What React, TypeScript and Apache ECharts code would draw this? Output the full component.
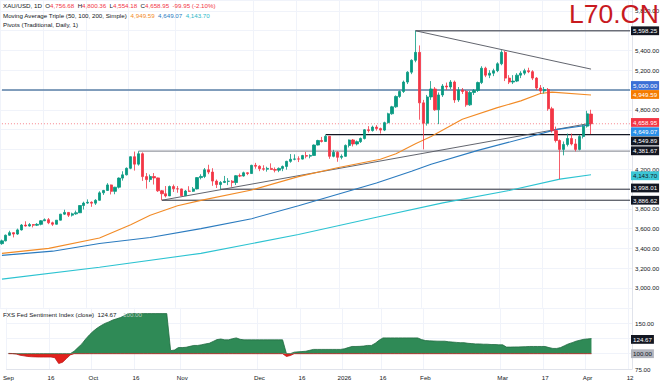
import { useEffect, useRef } from 'react';
import * as echarts from 'echarts';

const FONT = "'Liberation Sans', Arial, sans-serif";

// ---- time axis ----
const firstDay = '2025-09-01';
const lastTradingDay = '2026-04-02';
const futureEnd = '2026-04-12';
const holidays = ['2025-12-25', '2026-01-01'];
const dateLabels: Record<string, string> = {
  '2025-09-01': 'Sep', '2025-09-16': '16', '2025-10-01': 'Oct', '2025-10-16': '16',
  '2025-11-03': 'Nov', '2025-12-01': 'Dec', '2025-12-16': '16', '2026-01-02': '2026',
  '2026-01-16': '16', '2026-02-02': 'Feb', '2026-03-02': 'Mar', '2026-03-17': '17',
  '2026-04-01': 'Apr', '2026-04-12': '12',
};

// ---- XAU/USD daily OHLC ----
const opens = [
  3448, 3476, 3533, 3559, 3545, 3587, 3636, 3626, 3641, 3634,
  3643, 3679, 3690, 3659, 3644, 3685, 3746, 3763, 3736, 3749,
  3760, 3833, 3858, 3866, 3857, 3886, 3961, 3985, 4041, 3976,
  4018, 4110, 4143, 4209, 4326, 4251, 4356, 4125, 4095, 4126,
  4112, 3982, 3952, 3930, 4025, 4002, 4001, 3932, 3979, 3977,
  4001, 4115, 4127, 4194, 4171, 4080, 4045, 4066, 4077, 4079,
  4065, 4134, 4131, 4164, 4156, 4239, 4230, 4205, 4200, 4208,
  4197, 4190, 4208, 4228, 4279, 4300, 4304, 4302, 4338, 4332,
  4339, 4444, 4490, 4480, 4532, 4330, 4370, 4320, 4330, 4440,
  4495, 4455, 4478, 4510, 4598, 4590, 4625, 4610, 4595, 4670,
  4760, 4830, 4935, 4985, 5080, 5180, 5300, 5380, 4870, 4665,
  4930, 5010, 4800, 4950, 5040, 5030, 5080, 4900, 5000, 4985,
  4850, 4975, 4995, 5075, 5220, 5150, 5170, 5195, 5265, 5380,
  5120, 5080, 5090, 5150, 5170, 5195, 5185, 5120, 5020, 4990,
  5005, 4810, 4590, 4490, 4400, 4450, 4510, 4455, 4400, 4530, 4635, 4756.68,
];
const highs = [
  3489, 3540, 3578, 3563, 3600, 3646, 3674, 3656, 3645, 3655,
  3686, 3703, 3707, 3670, 3686, 3749, 3791, 3768, 3761, 3782,
  3835, 3872, 3895, 3875, 3897, 3977, 3991, 4059, 4045, 4022,
  4117, 4179, 4218, 4330, 4378, 4381.67, 4370, 4161, 4146, 4161,
  4115, 3990, 4030, 4035, 4045, 4030, 4004, 3990, 4028, 4020,
  4120, 4149, 4212, 4245, 4210, 4096, 4080, 4132, 4110, 4090,
  4140, 4156, 4175, 4168, 4245, 4264, 4240, 4240, 4225, 4259,
  4218, 4218, 4237, 4285, 4353, 4350, 4330, 4345, 4375, 4350,
  4450, 4497, 4526, 4549.89, 4535, 4395, 4382, 4350, 4450, 4500,
  4505, 4490, 4520, 4605, 4635, 4640, 4645, 4620, 4680, 4770,
  4840, 4945, 4995, 5095, 5190, 5310, 5598.25, 5450, 4900, 4950,
  5090, 5030, 4975, 5060, 5075, 5100, 5095, 5030, 5020, 5000,
  4990, 5010, 5085, 5240, 5235, 5200, 5215, 5280, 5402, 5395,
  5150, 5150, 5170, 5190, 5215, 5225, 5200, 5130, 5050, 5030,
  5020, 4830, 4630, 4500, 4480, 4560, 4560, 4505, 4545, 4650, 4790, 4800.36,
];
const lows = [
  3436, 3471, 3527, 3511, 3537, 3580, 3620, 3620, 3612, 3626,
  3633, 3676, 3645, 3627, 3641, 3683, 3738, 3717, 3722, 3740,
  3758, 3793, 3850, 3820, 3839, 3882, 3940, 3980, 3945, 3947,
  4005, 4085, 4137, 4200, 4186, 4236, 4082, 4004, 4070, 4045,
  3970, 3886.62, 3915, 3929, 3970, 3962, 3928, 3930, 3972, 3970,
  3996, 4097, 4110, 4150, 4032, 4010, 3998.01, 4060, 4039, 4022,
  4040, 4120, 4125, 4140, 4152, 4205, 4180, 4184, 4175, 4195,
  4168, 4170, 4180, 4195, 4265, 4290, 4272, 4298, 4310, 4310,
  4337, 4440, 4470, 4475, 4305, 4320, 4275, 4300, 4325, 4420,
  4430, 4440, 4465, 4500, 4570, 4580, 4590, 4560, 4585, 4660,
  4750, 4820, 4920, 4970, 5060, 5160, 5280, 4700, 4400, 4640,
  4900, 4790, 4655, 4930, 5000, 5010, 4870, 4880, 4960, 4830,
  4840, 4950, 4980, 5060, 5130, 5120, 5140, 5180, 5250, 5090,
  5060, 5060, 5080, 5120, 5150, 5170, 5100, 5000, 4960, 4965,
  4790, 4570, 4470, 4100, 4340, 4430, 4440, 4380, 4390, 4510, 4620, 4554.18,
];
const closes = [
  3476, 3533, 3559, 3545, 3587, 3636, 3626, 3641, 3634, 3643,
  3679, 3690, 3659, 3644, 3685, 3746, 3763, 3736, 3749, 3760,
  3833, 3858, 3866, 3857, 3886, 3961, 3985, 4041, 3976, 4018,
  4110, 4143, 4209, 4326, 4251, 4356, 4125, 4095, 4126, 4112,
  3982, 3952, 3930, 4025, 4002, 4001, 3932, 3979, 3977, 4001,
  4115, 4127, 4194, 4171, 4080, 4045, 4066, 4077, 4079, 4065,
  4134, 4131, 4164, 4156, 4239, 4230, 4205, 4200, 4208, 4197,
  4190, 4208, 4228, 4279, 4300, 4304, 4302, 4338, 4332, 4339,
  4444, 4490, 4480, 4532, 4330, 4370, 4320, 4330, 4440, 4495,
  4455, 4478, 4510, 4598, 4590, 4625, 4610, 4595, 4670, 4760,
  4830, 4935, 4985, 5080, 5180, 5300, 5380, 4870, 4665, 4930,
  5010, 4800, 4950, 5040, 5030, 5080, 4900, 5000, 4985, 4850,
  4975, 4995, 5075, 5220, 5150, 5170, 5195, 5265, 5380, 5120,
  5080, 5090, 5150, 5170, 5195, 5185, 5120, 5020, 4990, 5005,
  4810, 4590, 4490, 4400, 4450, 4510, 4455, 4400, 4530, 4635, 4758.9, 4658.95,
];

// ---- moving averages: [bar index, value] ----
const ma50Points = [
  [0, 3350], [12, 3400], [25, 3505], [33, 3640], [38, 3735], [45, 3830], [51, 3885],
  [64, 3990], [76, 4125], [86, 4215], [97, 4300], [101, 4357], [106, 4457], [110, 4530],
  [118, 4705], [127, 4822], [133, 4890], [138, 4965], [141, 4978], [151, 4949.59],
];
const ma100Points = [
  [0, 3330], [13, 3372], [25, 3450], [38, 3510], [51, 3600], [64, 3700], [76, 3830],
  [96, 4060], [105, 4180], [110, 4250], [122, 4390], [135, 4525], [142, 4600], [151, 4649.07],
];
const ma200Points = [
  [0, 3090], [25, 3210], [51, 3350], [76, 3540], [96, 3715], [113, 3860], [130, 3985],
  [143, 4100], [151, 4143.7],
];

// ---- FXS Fed Sentiment Index ----
const sentimentBase = 100;
const sentiment = [
  100.5, 100.3, 99.5, 97.5, 96.5, 95.5, 95, 94.8, 94.6, 94.6,
  94.6, 94.6, 93.5, 84, 86, 92, 98, 104, 110, 116,
  124, 131, 137, 142, 146, 149.5, 152, 155, 157, 159,
  162, 165.5, 165.5, 165.5, 165.5, 165.5, 165.5, 165.5, 165.5, 165.5,
  165.5, 165.5, 105, 106, 110, 110, 110.5, 112, 113.5, 113.5,
  114.5, 116, 117, 120, 123, 124, 122.6, 122.6, 124.5, 125.8,
  123.5, 122.6, 122.6, 122.6, 122.6, 122.6, 122.6, 122.6, 122.6, 122.6,
  122.6, 122.6, 95.5, 97, 102.5, 103, 103.5, 104, 105.5, 107,
  107, 107, 107, 107, 107, 107, 107, 108, 110, 111.8,
  111.8, 112, 112.5, 113.5, 113.5, 117, 122, 125.8, 125.8, 125.8,
  125.8, 125.8, 125.8, 125.8, 125.8, 125.8, 125.8, 123, 121.5, 121,
  120.8, 120.5, 120.4, 120.4, 119.5, 119, 118.5, 118, 118, 117,
  116.5, 116, 116, 115.5, 115.5, 115, 115, 114.5, 114.5, 110.8,
  110.8, 111, 111, 111.2, 111.5, 111.8, 111.8, 111.8, 111.8, 111.8,
  110, 108.6, 108.6, 110, 113, 116, 118, 120.4, 122, 123.5, 124.2, 124.67,
];

// ---- drawn levels: [startBar, startValue, endBar, endValue] ----
const peakLevel = [106, 5598.25, 161, 5598.25];
const fallingTrend = [106, 5598.25, 151, 5211];
const risingTrend = [41, 3886.62, 151, 4665];
const pivotDec = [83, 4549.89, 161, 4549.89];
const pivotOct = [35, 4381.67, 161, 4381.67];
const pivotNov = [56, 3998.01, 161, 3998.01];
const pivotLow = [41, 3886.62, 161, 3886.62];
const roundLevel = [0, 5000, 161, 5000];
const lastPriceLine = [0, 4658.95, 161, 4658.95];

const priceTickLabels = [3000, 3200, 3400, 3600, 3800, 4200, 4800, 5200, 5400, 5800];
const sentimentTickLabels = [75, 150];

// right-axis tags
const priceTags = [
  { v: 5598.25, t: '5,598.25', kind: 'pivot', dy: 0 },
  { v: 5000, t: '5,000.00', kind: 'round', dy: -4.5 },
  { v: 4949.59, t: '4,949.59', kind: 'ma50', dy: -0.5 },
  { v: 4658.95, t: '4,658.95', kind: 'price', dy: -1.3 },
  { v: 4649.07, t: '4,649.07', kind: 'ma100', dy: 7 },
  { v: 4549.89, t: '4,549.89', kind: 'pivot', dy: 6.4 },
  { v: 4381.67, t: '4,381.67', kind: 'pivot', dy: -0.4 },
  { v: 4143.7, t: '4,143.70', kind: 'ma200', dy: 1 },
  { v: 3998.01, t: '3,998.01', kind: 'pivot', dy: -1.2 },
  { v: 3886.62, t: '3,886.62', kind: 'pivot', dy: 0 },
];
const sentimentTags = [
  { v: 124.67, t: '124.67', kind: 'pivot', dy: 0.8 },
  { v: 100, t: '100.00', kind: 'base', dy: 0 },
];

const tagStyle: Record<string, { bg: string; fg: string }> = {
  pivot: { bg: '#131722', fg: '#ffffff' },
  round: { bg: '#3b6fd6', fg: '#ffffff' },
  ma50: { bg: '#f57c00', fg: '#ffffff' },
  price: { bg: '#f23645', fg: '#ffffff' },
  ma100: { bg: '#2a8fe8', fg: '#ffffff' },
  ma200: { bg: '#3cc6d6', fg: '#131722' },
  base: { bg: '#b2b5be', fg: '#131722' },
};

function buildCategories(): string[] {
  const out: string[] = [];
  const [y, m, d] = firstDay.split('-').map(Number);
  const cur = new Date(Date.UTC(y, m - 1, d));
  const fmt = (x: Date) => x.toISOString().slice(0, 10);
  while (fmt(cur) <= lastTradingDay) {
    const wd = cur.getUTCDay();
    const s = fmt(cur);
    if (wd !== 0 && wd !== 6 && !holidays.includes(s)) out.push(s);
    cur.setUTCDate(cur.getUTCDate() + 1);
  }
  while (fmt(cur) <= futureEnd) {
    out.push(fmt(cur));
    cur.setUTCDate(cur.getUTCDate() + 1);
  }
  return out;
}

const fmt2 = (v: number) =>
  v.toLocaleString('en-US', { minimumFractionDigits: 2, maximumFractionDigits: 2 });

export default function App() {
  const ref = useRef<HTMLDivElement>(null);

  useEffect(() => {
    if (!ref.current) return;
    const chart = echarts.init(ref.current, undefined, { renderer: 'svg' });
    const categories = buildCategories();
    const isLabeled = (_i: number, v: string) => dateLabels[v] !== undefined;
    const candles = opens.map((o, i) => [o, closes[i], lows[i], highs[i]]);
    const sentimentAbove = sentiment.map((v) => Math.max(v, sentimentBase));
    const sentimentBelow = sentiment.map((v) => Math.min(v, sentimentBase));
    const gridColor = '#f0f3fa';
    const borderColor = '#e0e3eb';

    const segLine = (s: number[], color: string, width: number, dash?: number[]) => ({
      type: 'line', xAxisIndex: 0, yAxisIndex: 0,
      data: [[s[0], s[1]], [s[2], s[3]]],
      showSymbol: false, silent: true, z: 2,
      lineStyle: { color, width, type: dash ?? 'solid' },
    });

    const option: any = {
      animation: false,
      backgroundColor: '#ffffff',
      textStyle: { fontFamily: FONT },
      grid: [
        { left: 0, right: 33, top: 0, height: 307.8 },
        { left: 0, right: 33, top: 307.8, height: 61.2 },
      ],
      xAxis: [
        {
          type: 'category', gridIndex: 0, data: categories, boundaryGap: true,
          axisLine: { show: false }, axisTick: { show: false }, axisLabel: { show: false },
          splitLine: { show: true, interval: isLabeled, lineStyle: { color: gridColor } },
        },
        {
          type: 'category', gridIndex: 1, data: categories, boundaryGap: true,
          axisLine: { show: true, lineStyle: { color: borderColor } }, axisTick: { show: false },
          axisLabel: {
            interval: isLabeled, formatter: (v: string) => dateLabels[v] ?? '',
            fontSize: 6.2, color: '#131722', margin: 5, fontFamily: FONT,
          },
          splitLine: { show: true, interval: isLabeled, lineStyle: { color: gridColor } },
        },
      ],
      yAxis: [
        {
          type: 'value', gridIndex: 0, position: 'right', min: 2800, max: 5909, interval: 200,
          axisLine: { show: true, lineStyle: { color: borderColor } }, axisTick: { show: false },
          axisLabel: {
            formatter: (v: number) => (priceTickLabels.includes(v) ? fmt2(v) : ''),
            fontSize: 6.2, color: '#131722', margin: 3, fontFamily: FONT,
          },
          splitLine: { lineStyle: { color: gridColor } },
        },
        {
          type: 'value', gridIndex: 1, position: 'right', min: 75, max: 175, interval: 25,
          axisLine: { show: true, lineStyle: { color: borderColor } }, axisTick: { show: false },
          axisLabel: {
            formatter: (v: number) => (sentimentTickLabels.includes(v) ? fmt2(v) : ''),
            fontSize: 6.2, color: '#131722', margin: 3, fontFamily: FONT,
          },
          splitLine: { lineStyle: { color: gridColor } },
        },
      ],
      series: [
        {
          type: 'candlestick', xAxisIndex: 0, yAxisIndex: 0, data: candles, barWidth: 2.7, z: 4,
          itemStyle: {
            color: '#089981', color0: '#f23645', borderColor: '#089981', borderColor0: '#f23645',
            borderWidth: 0.8,
          },
        },
        {
          type: 'line', xAxisIndex: 0, yAxisIndex: 0, data: ma50Points, showSymbol: false,
          lineStyle: { color: '#f28b26', width: 1.1 }, z: 3,
        },
        {
          type: 'line', xAxisIndex: 0, yAxisIndex: 0, data: ma100Points, showSymbol: false,
          lineStyle: { color: '#2b7bbf', width: 1.1 }, z: 3,
        },
        {
          type: 'line', xAxisIndex: 0, yAxisIndex: 0, data: ma200Points, showSymbol: false,
          lineStyle: { color: '#2cc3d1', width: 1.1 }, z: 3,
        },
        {
          type: 'line', xAxisIndex: 1, yAxisIndex: 1, data: sentimentAbove, showSymbol: false,
          lineStyle: { width: 0.8, color: '#1f6b40' },
          areaStyle: { origin: sentimentBase, opacity: 1, color: '#2f8a56' },
        },
        {
          type: 'line', xAxisIndex: 1, yAxisIndex: 1, data: sentimentBelow, showSymbol: false,
          lineStyle: { width: 0.8, color: '#c01818' },
          areaStyle: { origin: sentimentBase, opacity: 1, color: '#e3211c' },
        },
        segLine(lastPriceLine, 'rgba(242,54,69,0.75)', 0.8, [1, 2]),
        segLine(roundLevel, '#5a7fa6', 1.6),
        segLine(peakLevel, '#6b6e78', 1.6),
        segLine(fallingTrend, '#50535e', 0.9),
        segLine(pivotDec, '#131722', 1.2),
        segLine(pivotOct, '#9598a1', 1.2),
        segLine(pivotNov, '#2a2e39', 1),
        segLine(pivotLow, '#2a2e39', 1),
        segLine(risingTrend, '#50535e', 0.9),
      ],
    };
    chart.setOption(option);

    const staticGraphics: any[] = [
      {
        type: 'text', left: 3, top: 2, z: 100,
        style: {
          text: '{d|XAU/USD, 1D}  {d|O}{r|4,756.68}  {d|H}{r|4,800.36}  {d|L}{r|4,554.18}  {d|C}{r|4,658.95}  {r|-99.95 (-2.10%)}',
          fontSize: 6.2, fontFamily: FONT, fill: '#131722',
          rich: { d: { fill: '#131722', fontSize: 6.2, fontFamily: FONT }, r: { fill: '#f23645', fontSize: 6.2, fontFamily: FONT } },
        },
      },
      {
        type: 'text', left: 3, top: 12, z: 100,
        style: {
          text: '{d|Moving Average Triple (50, 100, 200, Simple)}  {o|4,949.59}  {b|4,649.07}  {t|4,143.70}',
          fontSize: 6.2, fontFamily: FONT, fill: '#131722',
          rich: {
            d: { fill: '#131722', fontSize: 6.2, fontFamily: FONT },
            o: { fill: '#f28b26', fontSize: 6.2, fontFamily: FONT },
            b: { fill: '#2b7bbf', fontSize: 6.2, fontFamily: FONT },
            t: { fill: '#2cb8c8', fontSize: 6.2, fontFamily: FONT },
          },
        },
      },
      {
        type: 'text', left: 3, top: 21, z: 100,
        style: { text: 'Pivots (Traditional, Daily, 1)', fontSize: 6.2, fontFamily: FONT, fill: '#131722' },
      },
      {
        type: 'text', left: 3, top: 311, z: 100,
        style: {
          text: 'FXS Fed Sentiment Index (close)  124.67',
          fontSize: 6.2, fontFamily: FONT, fill: '#131722',
        },
      },
      {
        type: 'text', left: 123, top: 311, z: 100,
        style: { text: '100.00', fontSize: 6.2, fontFamily: FONT, fill: '#b9cbbf' },
      },
      {
        type: 'text', left: 569, top: 0, z: 200,
        style: { text: 'L70.CN', fontSize: 26.5, fontFamily: FONT, fill: '#c81a1f' },
      },
    ];

    const makeTags = (tags: typeof priceTags, axis: number) =>
      tags.map((t) => {
        const y = chart.convertToPixel({ yAxisIndex: axis } as any, t.v) as number;
        const st = tagStyle[t.kind];
        return {
          type: 'text', x: 631, y: y + t.dy, z: 150,
          style: {
            text: t.t, fill: st.fg, backgroundColor: st.bg, padding: [1.6, 2, 1.2, 2],
            fontSize: 6.2, fontFamily: FONT, verticalAlign: 'middle', align: 'left',
          },
        };
      });

    let tags: any[] = [];
    try {
      tags = [...makeTags(priceTags, 0), ...makeTags(sentimentTags, 1)];
    } catch (e) {
      tags = [];
    }
    chart.setOption({ graphic: [...staticGraphics, ...tags] });

    return () => chart.dispose();
  }, []);

  return (
    <div
      ref={ref}
      style={{ position: 'fixed', left: 0, top: 0, width: 665, height: 385, background: '#fff' }}
    />
  );
}
